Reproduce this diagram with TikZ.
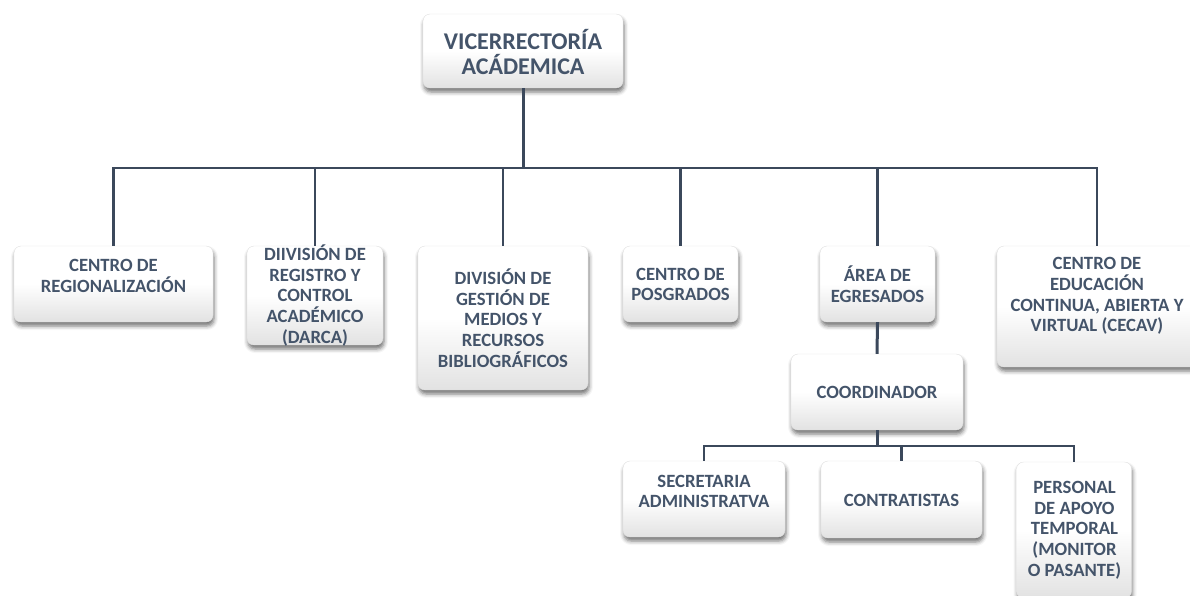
\documentclass[tikz,border=0pt]{standalone}
\usepackage{fontspec}
\setmainfont{Carlito}
\usetikzlibrary{shadows,shadows.blur}
\definecolor{txtc}{HTML}{44546A}
\definecolor{linec}{HTML}{3B485B}
\definecolor{boxbot}{HTML}{E2E2E2}
\tikzset{
  box/.style={rounded corners=7pt, draw=white!88!black, line width=0.4pt,
    top color=white, bottom color=boxbot, middle color=white,
    blur shadow={shadow xshift=1pt, shadow yshift=-4pt, shadow blur radius=4pt, shadow opacity=55},
    inner sep=0pt},
  txt/.style={text=txtc, font=\bfseries\fontsize{18.7}{20.7}\selectfont, align=center, inner sep=0pt},
  toptxt/.style={text=txtc, font=\bfseries\fontsize{24}{25.7}\selectfont, align=center, inner sep=0pt},
  conn/.style={draw=linec, line width=2.2pt},
  mainconn/.style={draw=linec, line width=3pt},
}
\begin{document}
\begin{tikzpicture}[x=1pt,y=-1pt]
\useasboundingbox (0,0) rectangle (1190,595);
\begin{scope}
\clip (0,0) rectangle (1190,595);
% boxes
\node[box, minimum width=200pt, minimum height=74pt] (top) at (523,51) {};
\node[box, minimum width=199pt, minimum height=76pt] (b1) at (113.5,284) {};
\node[box, minimum width=136pt, minimum height=99pt] (b2) at (315,295.5) {};
\node[box, minimum width=170pt, minimum height=144pt] (b3) at (503,318) {};
\node[box, minimum width=115pt, minimum height=76pt] (b4) at (680.5,284) {};
\node[box, minimum width=115pt, minimum height=76pt] (b5) at (877.5,284) {};
\node[box, minimum width=200pt, minimum height=121pt] (b6) at (1097,306.5) {};
\node[box, minimum width=172pt, minimum height=76pt] (b7) at (877,392) {};
\node[box, minimum width=162pt, minimum height=76pt] (b8) at (704,499) {};
\node[box, minimum width=161pt, minimum height=77pt] (b9) at (901.5,499.5) {};
\node[box, minimum width=115pt, minimum height=136pt] (b10) at (1074,530) {};
\end{scope}
% texts
\node[toptxt] (ttop) at (523,52) {VICERRECTORÍA\\ACÁDEMICA};
\node[txt] (t1) at (113.5,276) {CENTRO DE\\REGIONALIZACIÓN};
\node[txt] (t2) at (315,295.5) {DIIVISIÓN DE\\REGISTRO Y\\CONTROL\\ACADÉMICO\\(DARCA)};
\node[txt] (t3) at (503,318) {DIVISIÓN DE\\GESTIÓN DE\\MEDIOS Y\\RECURSOS\\BIBLIOGRÁFICOS};
\node[txt] (t4) at (680.5,284.5) {CENTRO DE\\POSGRADOS};
\node[txt] (t5) at (877.5,284.5) {ÁREA DE\\EGRESADOS};
\node[txt] (t6) at (1097,296) {CENTRO DE\\EDUCACIÓN\\CONTINUA, ABIERTA Y\\VIRTUAL (CECAV)};
\node[txt] (t7) at (877,392) {COORDINADOR};
\node[txt] (t8) at (704,491.5) {SECRETARIA\\ADMINISTRATVA};
\node[txt] (t9) at (901.5,500) {CONTRATISTAS};
\node[txt] (t10) at (1074.5,530) {PERSONAL\\DE APOYO\\TEMPORAL\\(MONITOR\\O PASANTE)};
% connectors
\coordinate (bar) at (0,168);
\coordinate (bar2) at (0,446);
\draw[mainconn] (top.south) -- (top.south |- bar);
\draw[conn] (b1.north) -- (b1.north |- bar) -- (b6.north |- bar) -- (b6.north);
\foreach \b in {b2,b3,b4,b5} \draw[conn] (\b.north) -- (\b.north |- bar);
\draw[mainconn] (b5.south) -- (b7.north);
\draw[mainconn] (b7.south) -- (b7.south |- bar2);
\draw[conn] (b8.north) -- (b8.north |- bar2) -- (b10.north |- bar2) -- (b10.north);
\draw[conn] (b9.north) -- (b9.north |- bar2);
\end{tikzpicture}
\end{document}
